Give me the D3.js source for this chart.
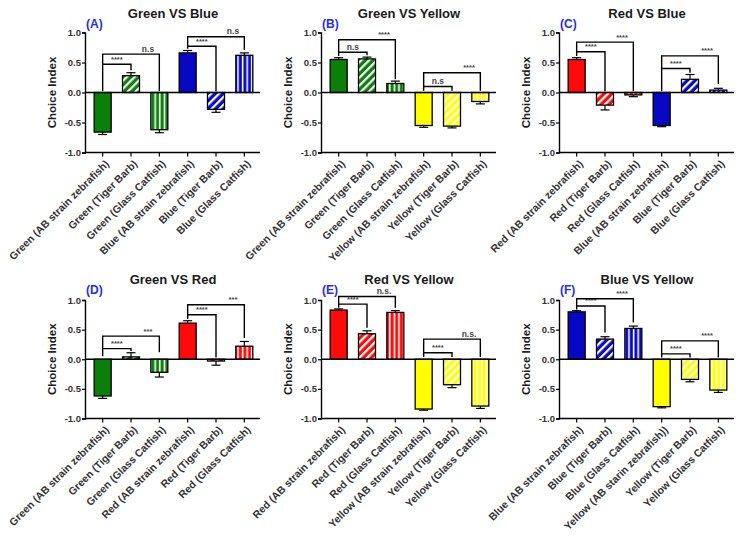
<!DOCTYPE html>
<html><head><meta charset="utf-8">
<script src="https://cdn.jsdelivr.net/npm/d3@7"></script>
<style>
body{margin:0;background:#fff}
text{font-family:"Liberation Sans",Arial,Helvetica,sans-serif;font-weight:bold}
</style>
</head><body>
<svg id="chart" width="744" height="537"></svg>
<script>
// ---------- DATA ----------
const yTickValues = [-1, -0.5, 0, 0.5, 1];
const titles = ["Green VS Blue", "Green VS Yellow", "Red VS Blue", "Green VS Red", "Red VS Yellow", "Blue VS Yellow"];
const letters = ["(A)", "(B)", "(C)", "(D)", "(E)", "(F)"];
const barStyles = ["solid", "diag", "vert", "solid", "diag", "vert"];

const catsA = ["Green (AB strain zebrafish)", "Green (Tiger Barb)", "Green (Glass Catfish)", "Blue (AB strain zebrafish)", "Blue (Tiger Barb)", "Blue (Glass Catfish)"];
const meansA = [-0.66, 0.28, -0.62, 0.66, -0.28, 0.62];
const errsA = [0.04, 0.05, 0.05, 0.04, 0.05, 0.04];
const colorsA = ["green", "green", "green", "blue", "blue", "blue"];
const bracketsA = [[0, 1, 0.47, 0.02, 0.37, "****"], [0, 2, 0.64, 0.47, 0.02, "n.s"], [3, 4, 0.77, 0.73, 0.02, "****"], [3, 5, 0.93, 0.77, 0.71, "n.s"]];

const catsB = ["Green (AB strain zebrafish)", "Green (Tiger Barb)", "Green (Glass Catfish)", "Yellow (AB strain zebrafish)", "Yellow (Tiger Barb)", "Yellow (Glass Catfish)"];
const meansB = [0.55, 0.56, 0.15, -0.55, -0.56, -0.15];
const errsB = [0.03, 0.03, 0.04, 0.03, 0.03, 0.04];
const colorsB = ["green", "green", "green", "yellow", "yellow", "yellow"];
const bracketsB = [[0, 1, 0.67, 0.61, 0.62, "n.s"], [0, 2, 0.88, 0.67, 0.22, "****"], [3, 4, 0.10, 0.03, 0.03, "n.s"], [3, 5, 0.33, 0.10, 0.03, "****"]];

const catsC = ["Red (AB strain zebrafish)", "Red (Tiger Barb)", "Red (Glass Catfish)", "Blue (AB strain zebrafish)", "Blue (Tiger Barb)", "Blue (Glass Catfish)"];
const meansC = [0.55, -0.21, -0.04, -0.55, 0.22, 0.04];
const errsC = [0.03, 0.08, 0.03, 0.02, 0.08, 0.03];
const colorsC = ["red", "red", "red", "blue", "blue", "blue"];
const bracketsC = [[0, 1, 0.68, 0.61, 0.02, "****"], [0, 2, 0.84, 0.68, 0.02, "****"], [3, 4, 0.40, 0.02, 0.33, "****"], [3, 5, 0.61, 0.40, 0.14, "****"]];

const catsD = ["Green (AB strain zebrafish)", "Green (Tiger Barb)", "Green (Glass Catfish)", "Red (AB strain zebrafish)", "Red (Tiger Barb)", "Red (Glass Catfish)"];
const meansD = [-0.62, 0.04, -0.22, 0.61, -0.03, 0.22];
const errsD = [0.04, 0.07, 0.08, 0.04, 0.07, 0.08];
const colorsD = ["green", "green", "green", "red", "red", "red"];
const bracketsD = [[0, 1, 0.18, 0.05, 0.14, "****"], [0, 2, 0.39, 0.18, 0.12, "***"], [3, 4, 0.75, 0.68, 0.03, "****"], [3, 5, 0.92, 0.75, 0.36, "***"]];

const catsE = ["Red (AB strain zebrafish)", "Red (Tiger Barb)", "Red (Glass Catfish)", "Yellow (AB strain zebrafish)", "Yellow (Tiger Barb)", "Yellow (Glass Catfish)"];
const meansE = [0.83, 0.43, 0.79, -0.84, -0.43, -0.79];
const errsE = [0.02, 0.05, 0.03, 0.02, 0.05, 0.04];
const colorsE = ["red", "red", "red", "yellow", "yellow", "yellow"];
const bracketsE = [[0, 1, 0.93, 0.87, 0.53, "****"], [0, 2, 1.06, 0.93, 0.87, "n.s."], [3, 4, 0.11, 0.04, 0.04, "****"], [3, 5, 0.34, 0.11, 0.04, "n.s."]];

const catsF = ["Blue (AB strain zebrafish)", "Blue (Tiger Barb)", "Blue (Glass Catfish)", "Yellow (AB starin zebrafish))", "Yellow (Tiger Barb)", "Yellow (Glass Catfish)"];
const meansF = [0.80, 0.34, 0.52, -0.80, -0.34, -0.52];
const errsF = [0.02, 0.04, 0.04, 0.02, 0.04, 0.04];
const colorsF = ["blue", "blue", "blue", "yellow", "yellow", "yellow"];
const bracketsF = [[0, 1, 0.90, 0.84, 0.45, "****"], [0, 2, 1.02, 0.90, 0.62, "****"], [3, 4, 0.09, 0.03, 0.03, "****"], [3, 5, 0.31, 0.09, 0.03, "****"]];

const panels = [
  {cats: catsA, means: meansA, errs: errsA, colors: colorsA, brackets: bracketsA},
  {cats: catsB, means: meansB, errs: errsB, colors: colorsB, brackets: bracketsB},
  {cats: catsC, means: meansC, errs: errsC, colors: colorsC, brackets: bracketsC},
  {cats: catsD, means: meansD, errs: errsD, colors: colorsD, brackets: bracketsD},
  {cats: catsE, means: meansE, errs: errsE, colors: colorsE, brackets: bracketsE},
  {cats: catsF, means: meansF, errs: errsF, colors: colorsF, brackets: bracketsF}
];

// ---------- STYLE ----------
const fillColor = {green: "#0a7f0a", blue: "#0808c4", red: "#ff0a0a", yellow: "#ffff00"};
const axisXs = [85, 321, 559];
const rows = [{top: 32.5, bottom: 152.5, titleY: 17.5, letterY: 28}, {top: 300, bottom: 418.5, titleY: 284, letterY: 294}];

const svg = d3.select("#chart");
const defs = svg.append("defs");
Object.entries(fillColor).forEach(([name, col]) => {
  const pd = defs.append("pattern").attr("id", "diag-" + name)
    .attr("patternUnits", "userSpaceOnUse").attr("width", 5.5).attr("height", 5)
    .attr("patternTransform", "rotate(45)");
  pd.append("rect").attr("width", 5.5).attr("height", 5).attr("fill", col);
  pd.append("rect").attr("width", 2.2).attr("height", 5).attr("fill", "#fff");
  const pv = defs.append("pattern").attr("id", "vert-" + name)
    .attr("patternUnits", "userSpaceOnUse").attr("width", 4.6).attr("height", 5);
  pv.append("rect").attr("width", 4.6).attr("height", 5).attr("fill", col);
  pv.append("rect").attr("x", 2.6).attr("width", 1.6).attr("height", 5).attr("fill", "#fff");
});

panels.forEach((p, pi) => {
  const col = pi % 3, row = Math.floor(pi / 3);
  const ax = axisXs[col];
  const R = rows[row];
  const g = svg.append("g");

  const x = d3.scaleBand().domain(p.cats).range([ax + 3.5, ax + 3.5 + 170]).paddingInner(0.4).paddingOuter(0.2);
  const y = d3.scaleLinear().domain([-1, 1]).range([R.bottom, R.top]);
  const bw = x.bandwidth();
  const cx = i => x(p.cats[i]) + bw / 2;

  // title & letter
  g.append("text").attr("x", ax + 88).attr("y", R.titleY).attr("text-anchor", "middle")
    .attr("font-size", 13).attr("fill", "#1a1a1a").text(titles[pi]);
  g.append("text").attr("x", ax + 1).attr("y", R.letterY)
    .attr("font-size", 12).attr("fill", "#1f2bff").text(letters[pi]);

  // y label
  g.append("text").attr("transform", `translate(${ax - 29},${y(0)}) rotate(-90)`)
    .attr("text-anchor", "middle").attr("font-size", 11.5).attr("fill", "#1a1a1a").text("Choice Index");

  // bars
  g.selectAll("rect.bar").data(p.means).join("rect").attr("class", "bar")
    .attr("x", (d, i) => x(p.cats[i]))
    .attr("width", bw)
    .attr("y", d => y(Math.max(0, d)))
    .attr("height", d => Math.abs(y(d) - y(0)))
    .attr("fill", (d, i) => barStyles[i] === "solid" ? fillColor[p.colors[i]] : `url(#${barStyles[i]}-${p.colors[i]})`)
    .attr("stroke", "#000").attr("stroke-width", 1.3);

  // error bars
  p.means.forEach((m, i) => {
    const end = m + Math.sign(m) * p.errs[i];
    g.append("line").attr("x1", cx(i)).attr("x2", cx(i)).attr("y1", y(m)).attr("y2", y(end))
      .attr("stroke", "#000").attr("stroke-width", 1.2);
    g.append("line").attr("x1", cx(i) - 4.5).attr("x2", cx(i) + 4.5).attr("y1", y(end)).attr("y2", y(end))
      .attr("stroke", "#000").attr("stroke-width", 1.2);
  });

  // zero line
  g.append("line").attr("x1", ax).attr("x2", ax + 175).attr("y1", y(0)).attr("y2", y(0))
    .attr("stroke", "#000").attr("stroke-width", 1.4);

  // brackets
  p.brackets.forEach(([i, j, lvl, l1, l2, lab]) => {
    const x1 = cx(i), x2 = cx(j);
    g.append("path").attr("d", `M${x1},${y(l1)}V${y(lvl)}H${x2}V${y(l2)}`)
      .attr("fill", "none").attr("stroke", "#000").attr("stroke-width", 1.4);
    const fr = (j - i === 1) ? 0.5 : 0.8;
    g.append("text").attr("x", x1 + (x2 - x1) * fr).attr("y", y(lvl) - 2.5).attr("text-anchor", "middle")
      .attr("font-size", lab.startsWith("n") ? 8.5 : 7.5).attr("font-weight", "normal").attr("fill", "#444").text(lab);
  });

  // y axis
  const ya = g.append("g").attr("transform", `translate(${ax},0)`)
    .call(d3.axisLeft(y).tickValues(yTickValues).tickSize(3).tickFormat(d => d.toFixed(1)));
  ya.select(".domain").attr("stroke-width", 1.4);
  ya.selectAll(".tick line").attr("stroke-width", 1.2);
  ya.selectAll(".tick text").attr("font-size", 9.5).attr("fill", "#333").attr("x", -4)
    .attr("font-family", '"Liberation Sans",Arial,sans-serif').attr("font-weight", "bold");

  // x axis (bottom)
  const xa = g.append("g").attr("transform", `translate(0,${R.bottom})`)
    .call(d3.axisBottom(x).tickSize(4).tickSizeOuter(0));
  xa.select(".domain").attr("d", `M${ax},0H${ax + 175}`).attr("stroke-width", 1.4);
  xa.selectAll(".tick line").attr("stroke-width", 1.2);
  xa.selectAll(".tick text").attr("font-size", 10.5).attr("fill", "#333")
    .attr("font-family", '"Liberation Sans",Arial,sans-serif').attr("font-weight", "bold")
    .attr("text-anchor", "end").attr("dy", null).attr("y", null)
    .attr("transform", "translate(7,12) rotate(-45)");
});
</script>
</body></html>
